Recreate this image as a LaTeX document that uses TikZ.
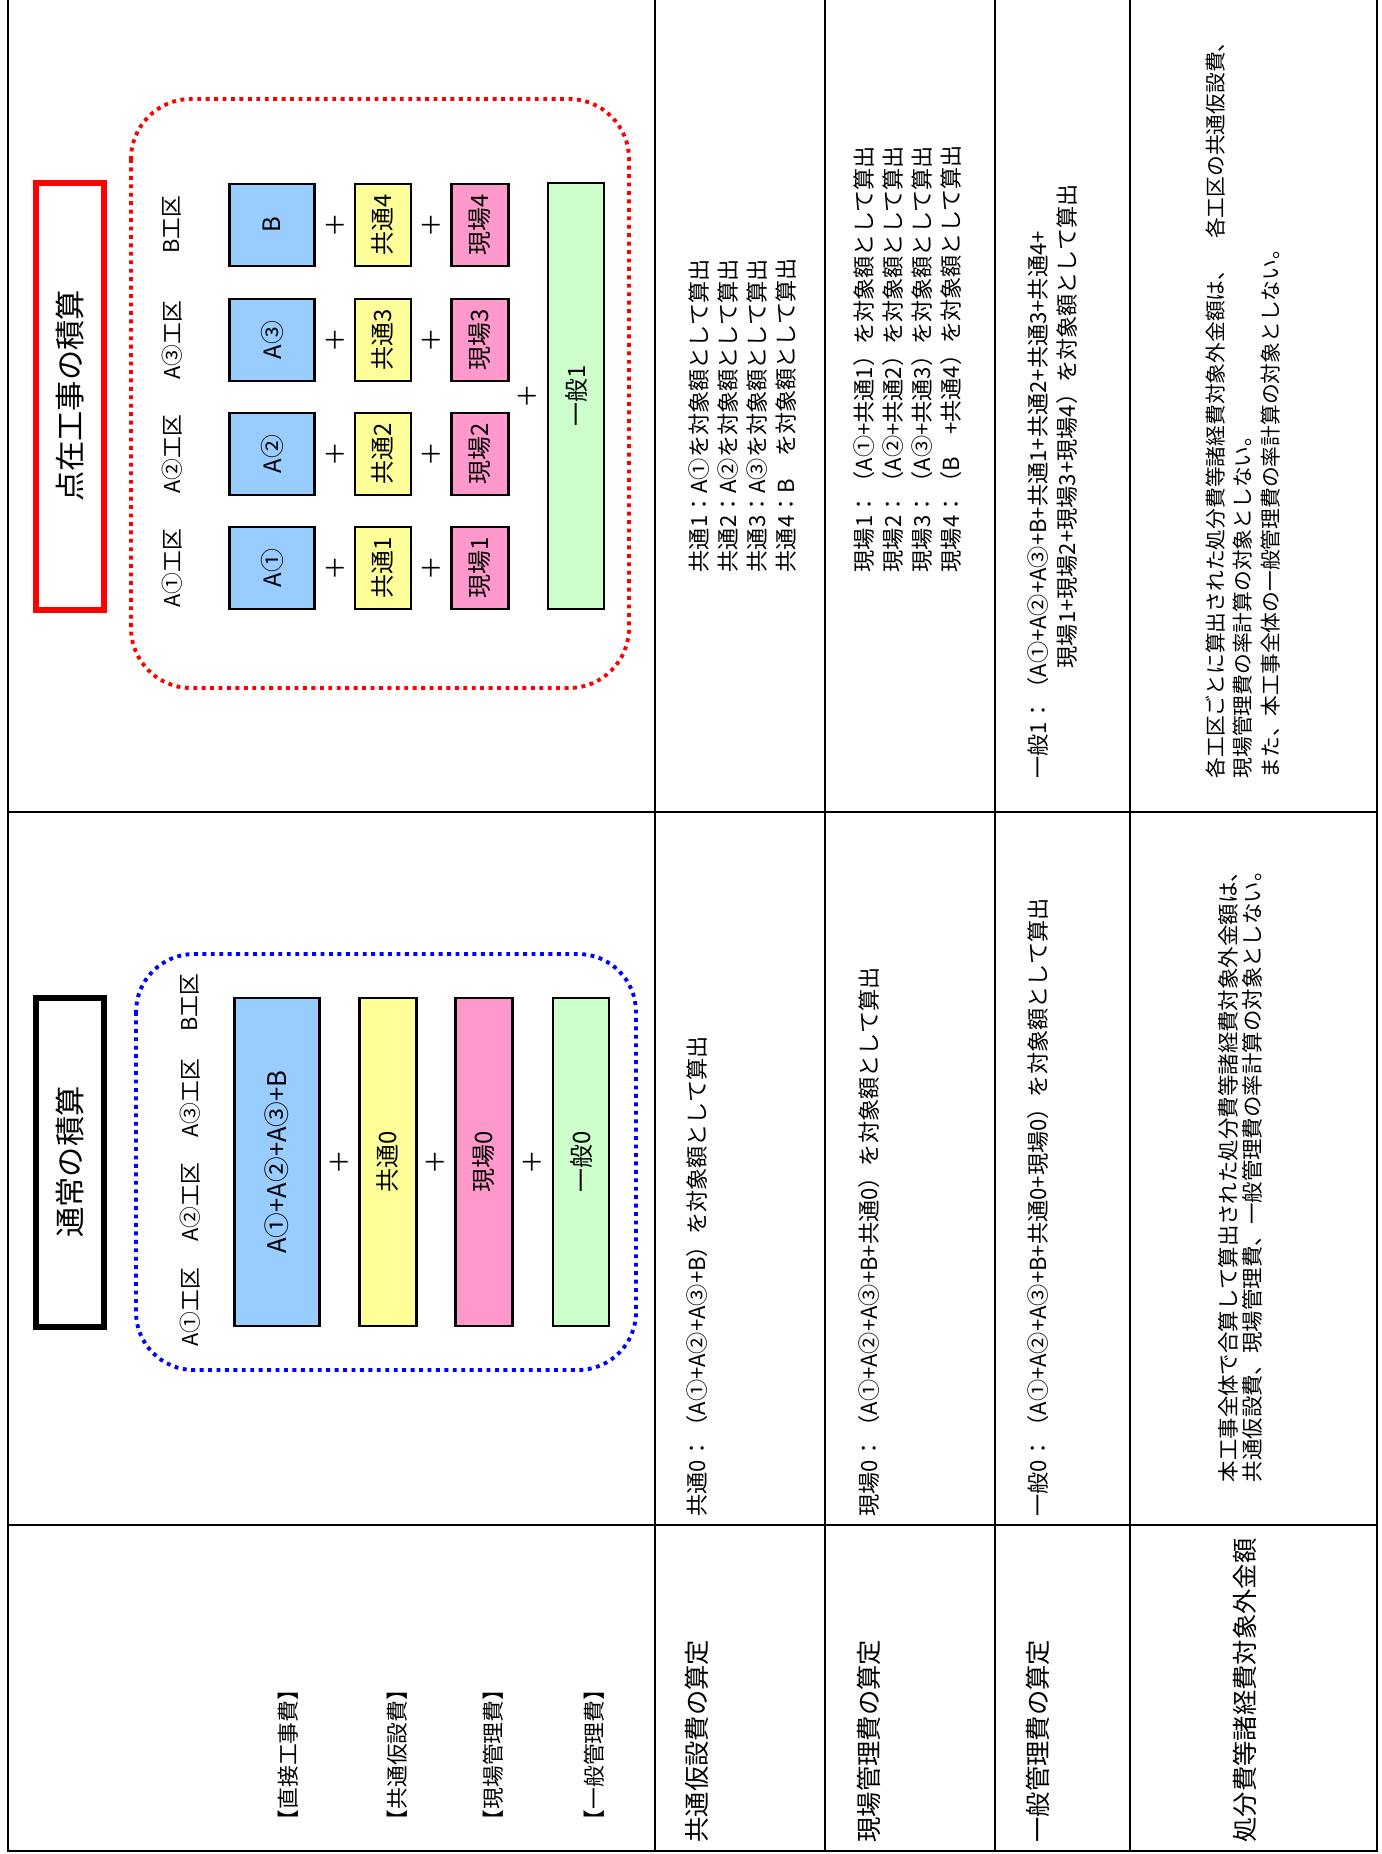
\documentclass[tikz,border=0pt]{standalone}
\usepackage{fontspec}
\setmainfont{Noto Sans CJK JP}
\definecolor{aqua}{HTML}{99CCFF}
\definecolor{lemon}{HTML}{FFFF99}
\definecolor{rose}{HTML}{FF99CC}
\definecolor{mint}{HTML}{CCFFCC}

\begin{document}
\begin{tikzpicture}[x=0.01cm, y=-0.01cm,
    rule/.style={line width=0.7pt},
    txt/.style={rotate=90, anchor=west, inner sep=0pt, align=left, font=\fontsize{6.3}{8.25}\selectfont},
    hd/.style={txt, font=\fontsize{7.2}{8}\selectfont},
    lbl/.style={rotate=90, inner sep=0pt, font=\fontsize{6.2}{7}\selectfont},
    ttl/.style={rotate=90, inner sep=0pt, font=\fontsize{8.6}{9}\selectfont},
    bx/.style={draw, line width=0.6pt, rotate=90, inner sep=0pt, font=\fontsize{6.8}{7}\selectfont},
    pls/.style={rotate=90, inner sep=0pt, font=\fontsize{7}{7}\selectfont},
    dots/.style={line width=1.1pt, dash pattern=on 1.1pt off 1.3pt}]
\useasboundingbox (0,0) rectangle (1381,1854);

\draw[rule] (8,0) -- (8,1851) -- (1377,1851) -- (1377,0);
\foreach \x in {655,825,995,1130} \draw[rule] (\x,0) -- (\x,1851);
\foreach \y in {812,1525} \draw[rule] (8,\y) -- (1377,\y);

\draw[red, line width=1.5pt] (36,183) rectangle (104,610);
\node[ttl] (t1) at (70,396) {点在工事の積算};
\draw[red, dots, rounded corners=0.6cm] (131,99) rectangle (629,688);
\foreach \y/\w/\k in {568/A①/1, 454/A②/2, 340/A③/3, 225/B/4} {
    \node[lbl] (z\k) at (172,\y) {\w 工区};
    \node[bx, fill=aqua, minimum width=0.82cm, minimum height=0.85cm] (a\k) at (272,\y) {\w};
    \node[pls] (p\k) at (335,\y) {＋};
    \node[bx, fill=lemon, minimum width=0.82cm, minimum height=0.56cm] (c\k) at (383,\y) {共通\k};
    \node[pls] (q\k) at (431,\y) {＋};
    \node[bx, fill=rose, minimum width=0.82cm, minimum height=0.57cm] (g\k) at (480,\y) {現場\k};
}
\node[pls] (r1) at (527,396) {＋};
\node[bx, fill=mint, minimum width=4.25cm, minimum height=0.56cm] (i1) at (576,396) {一般1};

\draw[line width=1.6pt] (36,998) rectangle (104,1327);
\node[ttl] (t0) at (70,1162) {通常の積算};
\draw[blue, dots, rounded corners=0.58cm] (136,954) rectangle (636,1370);
\foreach \y/\w [count=\k] in {1307/A①, 1202/A②, 1098/A③, 1003/B}
    \node[lbl] (y\k) at (190,\y) {\w 工区};
\node[bx, fill=aqua, minimum width=3.27cm, minimum height=0.85cm, font=\fontsize{7.3}{8}\selectfont] (a0) at (277,1162) {A①+A②+A③+B};
\node[pls] (p0) at (339,1162) {＋};
\node[bx, fill=lemon, minimum width=3.27cm, minimum height=0.57cm] (c0) at (388,1162) {共通0};
\node[pls] (q0) at (435,1162) {＋};
\node[bx, fill=rose, minimum width=3.27cm, minimum height=0.57cm] (g0) at (484,1162) {現場0};
\node[pls] (r0) at (532,1162) {＋};
\node[bx, fill=mint, minimum width=3.27cm, minimum height=0.56cm] (i0) at (581,1162) {一般0};

\foreach \x/\w [count=\i] in {288/直接工事費, 397/共通仮設費, 493/現場管理費, 594/一般管理費}
    \node[lbl] (h\i) at (\x,1755) {【\w】};

\node[hd] (s1) at (697,1843) {共通仮設費の算定};
\node[hd] (s2) at (869,1843) {現場管理費の算定};
\node[hd] (s3) at (1038,1843) {一般管理費の算定};
\node[hd] (s4) at (1245,1843) {処分費等諸経費対象外金額};

\node[txt] (n1) at (697,1517) {共通0：（A①+A②+A③+B）を対象額として算出};
\node[txt] (n2) at (869,1517) {現場0：（A①+A②+A③+B+共通0）を対象額として算出};
\node[txt] (n3) at (1038,1517) {一般0：（A①+A②+A③+B+共通0+現場0）を対象額として算出};
\node[txt, font=\fontsize{6.1}{6.8}\selectfont] (n4) at (1240,1483) {本工事全体で合算して算出された処分費等諸経費対象外金額は、\\共通仮設費、現場管理費、一般管理費の率計算の対象としない。};

\node[txt] (m1) at (743,573) {共通1：A①を対象額として算出\\共通2：A②を対象額として算出\\共通3：A③を対象額として算出\\共通4：B　を対象額として算出};
\node[txt] (m2) at (908,573) {現場1：（A①+共通1）を対象額として算出\\現場2：（A②+共通2）を対象額として算出\\現場3：（A③+共通3）を対象額として算出\\現場4：（B　+共通4）を対象額として算出};
\node[txt] (m3) at (1038,779) {一般1：（A①+A②+A③+B+共通1+共通2+共通3+共通4+};
\node[txt] (m4) at (1067,669) {現場1+現場2+現場3+現場4）を対象額として算出};
\node[txt, font=\fontsize{5.9}{7.7}\selectfont] (m5) at (1243,779) {各工区ごとに算出された処分費等諸経費対象外金額は、　各工区の共通仮設費、\\現場管理費の率計算の対象としない。\\また、本工事全体の一般管理費の率計算の対象としない。};
\end{tikzpicture}
\end{document}
